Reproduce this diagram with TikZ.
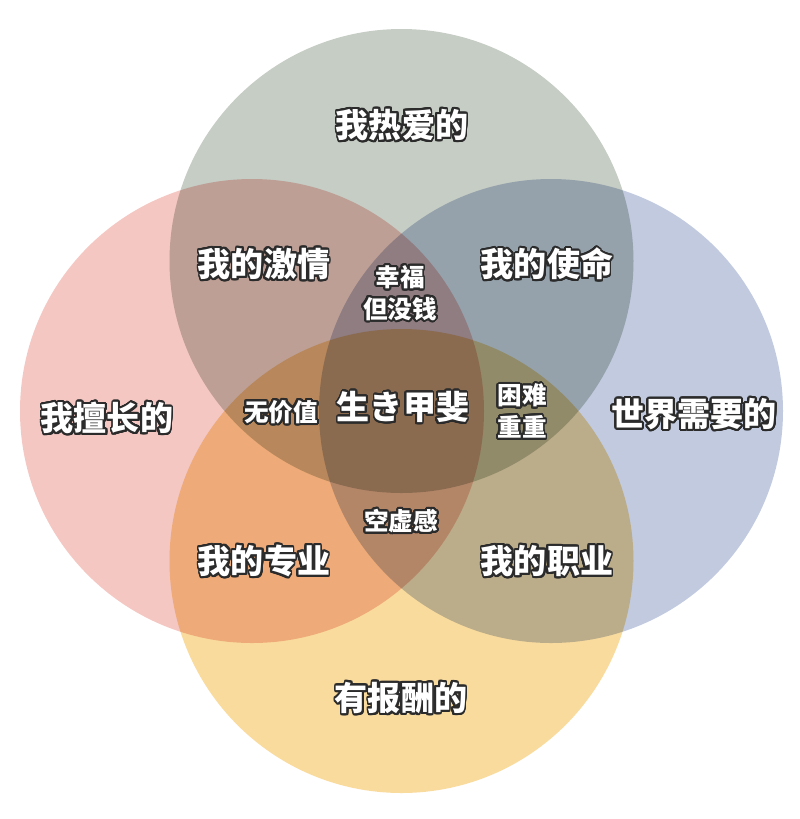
\documentclass[tikz,border=0pt]{standalone}
\usepackage{fontspec}
\newfontfamily\cjk{Noto Sans CJK SC}
\usepackage{contour}
\contourlength{1.1pt}
\contournumber{32}
\definecolor{reai}{HTML}{C6CDC5}
\definecolor{shanchang}{HTML}{F4C7C2}
\definecolor{xuyao}{HTML}{C1CADF}
\definecolor{baochou}{HTML}{F9DB9E}
\definecolor{bian}{HTML}{2B2B2B}
\newcommand{\biao}[1]{\contour{bian}{#1}}

\begin{document}
\begin{tikzpicture}[x=0.02cm, y=-0.02cm,
		quan/.style={blend mode=multiply},
		da/.style={text=white, font=\cjk\bfseries\fontsize{18.8}{20}\selectfont},
		xiao/.style={text=white, align=center, font=\cjk\bfseries\fontsize{14}{18}\selectfont}]
	\useasboundingbox (0,0) rectangle (800,819);
	% vier Kreise
	\fill[quan, reai]      (401.5,261) circle (232);
	\fill[quan, shanchang] (252,411)   circle (232);
	\fill[quan, xuyao]     (551,411)   circle (232);
	\fill[quan, baochou]   (401.5,561) circle (232);
	% Beschriftung
	\node[da] (reaide)   at (402,126) {\biao{我热爱的}};
	\node[da] (shanchangde) at (107,419) {\biao{我擅长的}};
	\node[da] (xuyaode)  at (694,415) {\biao{世界需要的}};
	\node[da] (baochoude) at (401,699) {\biao{有报酬的}};
	\node[da] (jiqing)   at (264,265) {\biao{我的激情}};
	\node[da] (shiming)  at (547,265) {\biao{我的使命}};
	\node[da] (zhuanye)  at (264,562) {\biao{我的专业}};
	\node[da] (zhiye)    at (547,562) {\biao{我的职业}};
	\node[da] (ikigai)   at (403,408) {\biao{生き甲斐}};
	\node[xiao] (meiqian) at (400,294) {\biao{幸福}\\\biao{但没钱}};
	\node[xiao] (wujiazhi) at (281,413) {\biao{无价值}};
	\node[xiao] (kunnan) at (522,412) {\biao{困难}\\\biao{重重}};
	\node[xiao] (kongxu) at (401,522) {\biao{空虚感}};
\end{tikzpicture}
\end{document}
